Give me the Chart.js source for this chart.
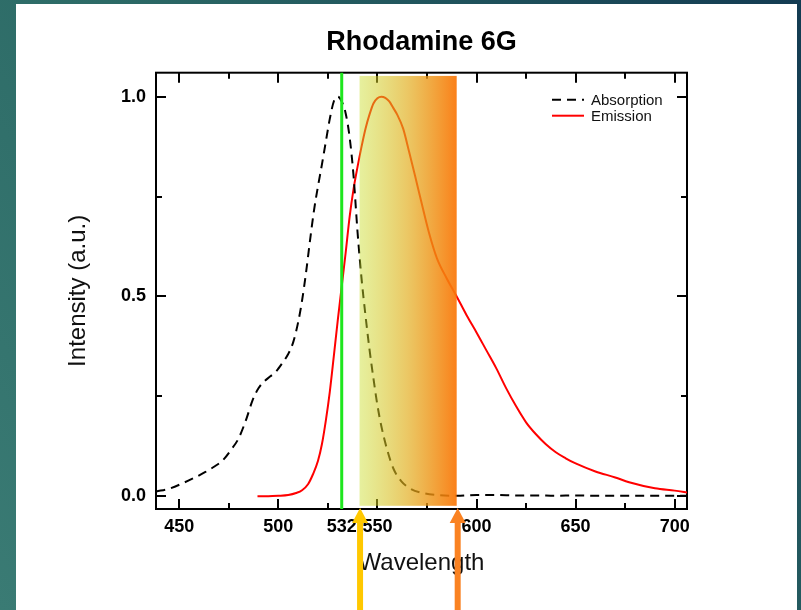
<!DOCTYPE html>
<html><head><meta charset="utf-8">
<script src="https://cdn.jsdelivr.net/npm/chart.js@4/dist/chart.umd.min.js"></script>
<style>html,body{margin:0;padding:0;overflow:hidden;background:#2a6466}canvas{display:block}</style>
</head><body>
<canvas id="c" width="801" height="610"></canvas>
<script>
// ---- data ----
const absWavelength = [438.5,445,452,458,463,468,472,476,480,484,487,490,493,496,499,502,505,507.5,510,512,514,516,518,520,522,524,526,528,530,532,534,536,538,540,542,544,546,548,550,552,555,558,562,567,573,580,590,600,610,620,630,640,650,660,670,680,690,700,707];
const absIntensity  = [0.012,0.019,0.033,0.047,0.060,0.075,0.090,0.115,0.145,0.195,0.240,0.270,0.288,0.300,0.313,0.333,0.356,0.385,0.435,0.490,0.560,0.640,0.715,0.775,0.830,0.888,0.945,0.988,1.000,0.988,0.958,0.898,0.800,0.660,0.545,0.452,0.368,0.295,0.228,0.175,0.115,0.070,0.038,0.018,0.008,0.003,0.001,0.003,0.003,0.002,0.002,0.001,0.002,0.001,0.001,0.001,0.001,0.001,0.001];
const emWavelength = [489.5,495,500,505,509,512,515,517.5,520,522,524,526,528,530,532,534,536,538,540,542,544,546,548,550,552,554,556,558,560,563,566,569,572,576,580,585,590,595,600,605,610,615,620,625,630,635,640,645,650,660,670,677,690,700,707];
const emIntensity  = [0.000,0.000,0.001,0.003,0.008,0.015,0.030,0.055,0.088,0.130,0.190,0.262,0.350,0.440,0.525,0.610,0.700,0.770,0.825,0.875,0.920,0.955,0.983,0.996,1.000,0.997,0.988,0.972,0.955,0.920,0.862,0.802,0.740,0.660,0.596,0.545,0.500,0.453,0.410,0.365,0.320,0.270,0.225,0.185,0.155,0.130,0.110,0.095,0.082,0.062,0.047,0.035,0.020,0.014,0.009];
const laserWavelength = [532];
const filterBand = [541, 590];
const xTickValues = [450, 500, 532, 550, 600, 650, 700];
const xMajorMarks = [450, 500, 550, 600, 650, 700];
const xMinorMarks = [475, 525, 575, 625, 675];
const yTickValues = [0, 0.5, 1.0];
const yMinorMarks = [0.25, 0.75];
const xRange = [438.3, 706.2];
const yRange = [-0.032, 1.06];
const seriesLabels = ['Absorption', 'Emission'];

const FONT = "'Liberation Sans', Arial, sans-serif";
const toXY = (xs, ys) => xs.map((v, i) => ({x: v, y: ys[i]}));

const bgPlugin = {
  id: 'bg',
  beforeDraw(chart) {
    const {ctx, width, height} = chart;
    ctx.save();
    const g = ctx.createLinearGradient(0, height, width, 0);
    g.addColorStop(0, '#3a7b74');
    g.addColorStop(0.45, '#2c6a66');
    g.addColorStop(1, '#133b52');
    ctx.fillStyle = g;
    ctx.fillRect(0, 0, width, height);
    ctx.fillStyle = '#ffffff';
    ctx.fillRect(16, 4, 781, height - 4);
    ctx.restore();
  }
};

const frameTicks = {
  id: 'frameTicks',
  beforeDatasetsDraw(chart) {
    const {ctx, chartArea: a, scales: {x, y}} = chart;
    ctx.save();
    ctx.strokeStyle = '#000'; ctx.lineWidth = 2; ctx.lineCap = 'butt';
    const seg = (x0, y0, x1, y1) => { ctx.beginPath(); ctx.moveTo(x0, y0); ctx.lineTo(x1, y1); ctx.stroke(); };
    const xt = (vals, len) => vals.forEach(v => { const p = Math.round(x.getPixelForValue(v)); seg(p, a.bottom, p, a.bottom - len); seg(p, a.top, p, a.top + len); });
    const yt = (vals, len) => vals.forEach(v => { const p = Math.round(y.getPixelForValue(v)); seg(a.left, p, a.left + len, p); seg(a.right, p, a.right - len, p); });
    xt(xMajorMarks, 10); xt(xMinorMarks, 6);
    yt(yTickValues, 10); yt(yMinorMarks, 6);
    ctx.strokeRect(a.left, a.top, a.right - a.left, a.bottom - a.top);
    ctx.restore();
  }
};

const bandPlugin = {
  id: 'band',
  afterDatasetsDraw(chart) {
    const {ctx, scales: {x, y}} = chart;
    const x0 = x.getPixelForValue(filterBand[0]), x1 = x.getPixelForValue(filterBand[1]);
    const y0 = y.getPixelForValue(1.052), y1 = y.getPixelForValue(-0.024);
    ctx.save();
    const g = ctx.createLinearGradient(x0, 0, x1, 0);
    g.addColorStop(0, 'rgba(200,222,40,0.45)');
    g.addColorStop(0.5, 'rgba(226,172,26,0.68)');
    g.addColorStop(1, 'rgba(250,118,8,0.93)');
    ctx.fillStyle = g;
    ctx.fillRect(x0, y0, x1 - x0, y1 - y0);
    ctx.restore();
  }
};

const overlayPlugin = {
  id: 'overlay',
  afterDraw(chart) {
    const {ctx, chartArea: a, scales: {x}, height} = chart;
    ctx.save();
    // legend
    ctx.font = '15px ' + FONT;
    ctx.textBaseline = 'middle';
    ctx.textAlign = 'left';
    [chart.data.datasets[1], chart.data.datasets[2]].forEach((ds, i) => {
      const yy = a.top + 27 + i * 16;
      ctx.strokeStyle = ds.borderColor; ctx.lineWidth = 2;
      ctx.setLineDash(ds.borderDash || []);
      ctx.beginPath(); ctx.moveTo(a.right - 135, yy); ctx.lineTo(a.right - 103, yy); ctx.stroke();
      ctx.setLineDash([]);
      ctx.fillStyle = '#111';
      ctx.fillText(ds.label, a.right - 96, yy + 1);
    });
    // arrows
    const arrow = (px, color) => {
      const tip = a.bottom - 1, headLen = 15, headW = 8, shaft = 3;
      ctx.fillStyle = color;
      ctx.beginPath();
      ctx.moveTo(px, tip);
      ctx.lineTo(px + headW, tip + headLen);
      ctx.lineTo(px + shaft, tip + headLen);
      ctx.lineTo(px + shaft, height);
      ctx.lineTo(px - shaft, height);
      ctx.lineTo(px - shaft, tip + headLen);
      ctx.lineTo(px - headW, tip + headLen);
      ctx.closePath();
      ctx.fill();
    };
    arrow(x.getPixelForValue(filterBand[0]) + 0.5, '#ffc800');
    arrow(x.getPixelForValue(filterBand[1]) + 1, '#fa8222');
    ctx.restore();
  }
};

new Chart(document.getElementById('c'), {
  type: 'line',
  data: {
    datasets: [
      { label: '532 nm', data: laserWavelength.flatMap(w => [{x: w, y: yRange[0]}, {x: w, y: yRange[1]}]),
        borderColor: 'rgb(30,230,30)', borderWidth: 3, pointRadius: 0, clip: {left: 0, right: 0, top: 3, bottom: 0} },
      { label: seriesLabels[0], data: toXY(absWavelength, absIntensity),
        borderColor: '#000000', borderWidth: 2, borderDash: [9, 6], pointRadius: 0, cubicInterpolationMode: 'monotone' },
      { label: seriesLabels[1], data: toXY(emWavelength, emIntensity),
        borderColor: '#ff0000', borderWidth: 2, pointRadius: 0, cubicInterpolationMode: 'monotone' }
    ]
  },
  options: {
    responsive: false,
    animation: false,
    devicePixelRatio: 1,
    layout: { padding: { left: 0, right: 114, top: 0, bottom: 0 } },
    plugins: {
      legend: { display: false },
      tooltip: { enabled: false },
      title: { display: true, text: 'Rhodamine 6G', fullSize: false, color: '#000',
        font: { family: FONT, size: 27, weight: 'bold' }, padding: { top: 26, bottom: 14.3 } }
    },
    scales: {
      x: {
        type: 'linear', min: xRange[0], max: xRange[1],
        afterFit(s) { s.height = 101; },
        afterBuildTicks(s) { s.ticks = xTickValues.map(v => ({value: v})); },
        grid: { display: false, drawTicks: false },
        border: { display: false },
        ticks: { autoSkip: false, maxRotation: 0, padding: 7, color: '#000',
          font: { family: FONT, size: 18, weight: 'bold' }, callback: v => String(v) },
        title: { display: true, text: 'Wavelength', color: '#111',
          font: { family: FONT, size: 24 }, padding: { top: 0, bottom: 32.6 } }
      },
      y: {
        type: 'linear', min: yRange[0], max: yRange[1],
        afterFit(s) { s.width = 156; },
        afterBuildTicks(s) { s.ticks = yTickValues.map(v => ({value: v})); },
        grid: { display: false, drawTicks: false },
        border: { display: false },
        ticks: { padding: 10, color: '#000',
          font: { family: FONT, size: 18, weight: 'bold' }, callback: v => Number(v).toFixed(1) },
        title: { display: true, text: 'Intensity (a.u.)', color: '#111',
          font: { family: FONT, size: 24 }, padding: { top: 63.6, bottom: 0 } }
      }
    }
  },
  plugins: [bgPlugin, frameTicks, bandPlugin, overlayPlugin]
});
</script></body></html>
